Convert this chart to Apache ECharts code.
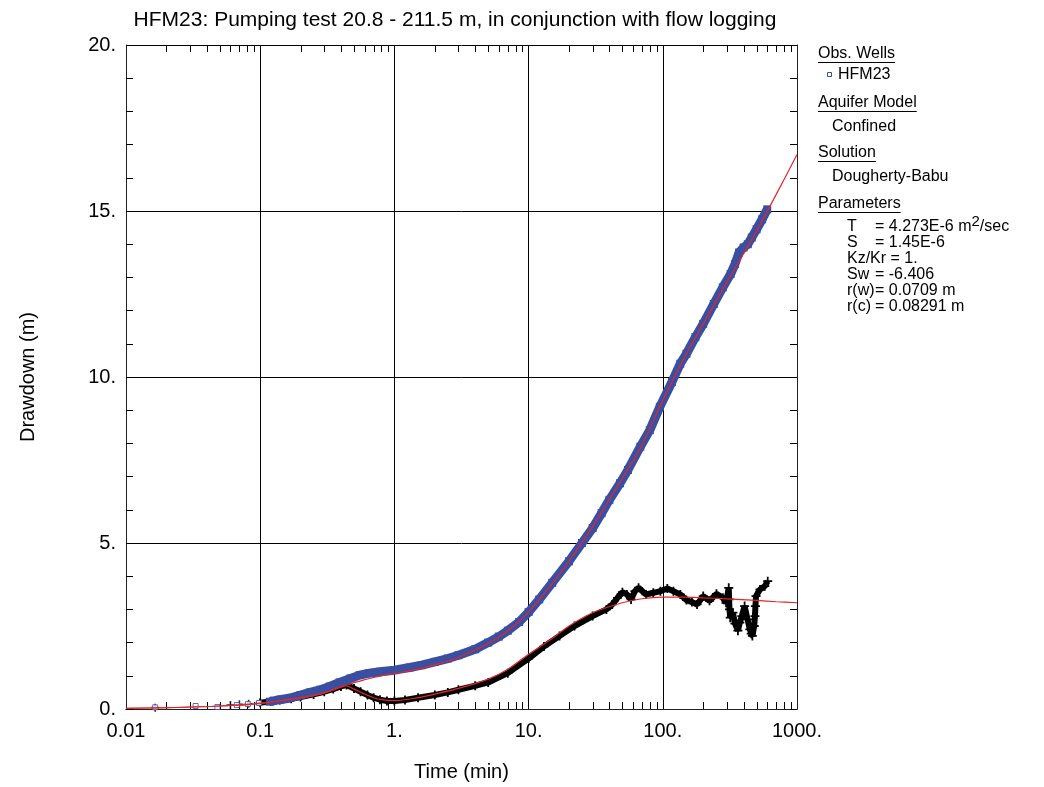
<!DOCTYPE html>
<html>
<head>
<meta charset="utf-8">
<script src="https://cdn.jsdelivr.net/npm/echarts@6/dist/echarts.min.js"></script>
<style>
  html, body { margin: 0; padding: 0; background: #ffffff; }
  #chart { width: 1044px; height: 787px; }
</style>
</head>
<body>
<div id="chart"></div>
<script>
const FONT = '"Liberation Sans", Arial, Helvetica, sans-serif';

// HFM23 observation well: isolated early readings (min, m)
const obsEarlyTime = [0.0165, 0.033, 0.048, 0.067, 0.081, 0.098];
const obsEarlyDrawdown = [0.05, 0.09, 0.06, 0.12, 0.15, 0.18];

// HFM23 observation well: continuous record (min, m)
const obsTime = [0.118, 0.14, 0.167, 0.2, 0.235, 0.28, 0.33, 0.39, 0.47, 0.55, 0.65, 0.78,
  1.0, 1.3, 1.6, 2.0, 2.5, 3.0, 4.0, 5.0, 6.0, 7.0, 8.5, 10, 12, 15, 20, 25, 30, 35, 40, 48,
  55, 68, 80, 95, 117, 135, 150, 175, 200, 240, 280, 320, 345, 370, 400, 430, 460, 500, 550, 600];
const obsDrawdown = [0.22, 0.28, 0.33, 0.42, 0.5, 0.58, 0.68, 0.8, 0.92, 1.02, 1.08, 1.12,
  1.17, 1.25, 1.32, 1.42, 1.52, 1.62, 1.8, 2.0, 2.18, 2.36, 2.62, 2.92, 3.3, 3.8, 4.45, 5.0, 5.45, 5.9, 6.3, 6.8,
  7.2, 7.9, 8.4, 9.1, 9.85, 10.4, 10.7, 11.2, 11.6, 12.2, 12.7, 13.1, 13.4, 13.75, 13.9, 14.0, 14.2, 14.45, 14.75, 15.05];

// Pumped section: isolated early readings (min, m)
const pumpEarlyTime = [0.0165, 0.06, 0.07, 0.082];
const pumpEarlyDrawdown = [0.04, 0.12, 0.14, 0.16];

// Pumped section: continuous record (min, m)
const pumpTime = [0.1, 0.12, 0.14, 0.17, 0.2, 0.25, 0.3, 0.35, 0.4, 0.44, 0.5, 0.56, 0.63, 0.7, 0.78, 0.88,
  1.0, 1.2, 1.5, 2.0, 2.5, 3.0, 4.0, 5.0, 7.0, 10, 13, 17, 22, 30, 38, 42, 46, 50, 54, 58, 62, 66, 75, 85,
  96, 108, 120, 135, 150, 165, 180, 200, 223, 251, 280, 296, 310, 312, 314, 318, 333, 345, 363, 375, 388,
  407, 428, 445, 456, 465, 480, 486, 490, 495, 530, 575, 605];
const pumpDrawdown = [0.19, 0.23, 0.27, 0.31, 0.36, 0.44, 0.52, 0.6, 0.68, 0.72, 0.62, 0.52, 0.42, 0.34, 0.28, 0.24,
  0.24, 0.27, 0.34, 0.42, 0.5, 0.58, 0.7, 0.8, 1.08, 1.52, 1.88, 2.2, 2.5, 2.8, 3.0, 3.15, 3.35, 3.52, 3.45, 3.3, 3.55, 3.65, 3.45, 3.5,
  3.55, 3.63, 3.55, 3.45, 3.28, 3.22, 3.15, 3.4, 3.26, 3.47, 3.35, 3.2, 3.65, 3.3, 3.0, 2.75, 2.9, 2.57, 2.36, 2.6, 2.8,
  3.1, 2.7, 2.4, 2.27, 2.2, 2.5, 2.8, 3.1, 3.4, 3.6, 3.7, 3.85];

// Dougherty-Babu type curves (min, m)
const fitTime = [0.01, 0.02, 0.05, 0.1, 0.2, 0.3, 0.43, 0.5, 0.6, 0.7, 0.8, 1.0, 1.5, 2, 3, 5, 7, 10, 15, 20, 30,
  50, 70, 100, 150, 200, 300, 500, 700, 1000];
const obsFit = [0.02, 0.04, 0.09, 0.17, 0.34, 0.48, 0.7, 0.79, 0.88, 0.95, 1.0, 1.07, 1.2, 1.33, 1.55, 1.97, 2.35, 2.92, 3.78, 4.45, 5.5,
  6.95, 7.95, 9.3, 10.7, 11.6, 12.85, 14.4, 15.5, 16.7];
const pumpFit = [0.02, 0.04, 0.09, 0.17, 0.34, 0.48, 0.7, 0.6, 0.45, 0.34, 0.28, 0.25, 0.34, 0.45, 0.62, 0.9, 1.2, 1.65, 2.12, 2.5, 2.9,
  3.2, 3.32, 3.37, 3.37, 3.35, 3.32, 3.27, 3.23, 3.2];

// Axis tick labels
const xTickLabels = ['0.01', '0.1', '1.', '10.', '100.', '1000.'];
const yTickLabels = ['0.', '5.', '10.', '15.', '20.'];

// Legend panel text
const obsWellHeading = 'Obs. Wells';
const obsWellName = 'HFM23';
const aquiferHeading = 'Aquifer Model';
const aquiferName = 'Confined';
const solutionHeading = 'Solution';
const solutionName = 'Dougherty-Babu';
const paramHeading = 'Parameters';
const paramNames = ['T', 'S', null, 'Sw', 'r(w)', 'r(c)'];
// each value: [text, superscript, text after superscript]
const paramValues = [['= 4.273E-6 m', '2', '/sec'], ['= 1.45E-6'], ['Kz/Kr = 1.'], ['= -6.406'], ['= 0.0709 m'], ['= 0.08291 m']];

const zip = (xs, ys) => xs.map((x, i) => [x, ys[i]]);

const BLUE = '#3a4fa0';
const RED = '#e4252b';
const X_MIN = 0.01, X_MAX = 1000, Y_MIN = 0, Y_MAX = 20;

// log-axis minor tick positions (2..9 in every decade)
const minorX = [];
for (let e = -2; e < 3; e++) {
  for (let m = 2; m <= 9; m++) minorX.push([m * Math.pow(10, e), 0]);
}

const plusPath = 'path://M4,0H6V4H10V6H6V10H4V6H0V4H4Z';

const chart = echarts.init(document.getElementById('chart'), null, { renderer: 'canvas' });

const measure = (() => {
  const ctx = document.createElement('canvas').getContext('2d');
  return (text, size) => { ctx.font = size + 'px ' + FONT; return ctx.measureText(text).width; };
})();

const LEG_X = 818, LEG_X2 = 832, LEG_X3 = 847, LEG_X4 = 875, LEG_FONT = 16;
function legText(x, y, text, size) {
  return { type: 'text', x: x, y: y, silent: true,
    style: { text: text, font: (size || LEG_FONT) + 'px ' + FONT, fill: '#000',
      align: 'left', verticalAlign: 'middle', textAlign: 'left', textVerticalAlign: 'middle' } };
}
function legHeading(y, text) {
  const w = measure(text, LEG_FONT);
  return [legText(LEG_X, y, text),
    { type: 'line', silent: true, shape: { x1: LEG_X, y1: y + 8.5, x2: LEG_X + w, y2: y + 8.5 },
      style: { stroke: '#000', lineWidth: 1 } }];
}

const graphics = [
  { type: 'text', x: 455, y: 20, silent: true,
    style: { text: 'HFM23: Pumping test 20.8 - 211.5 m, in conjunction with flow logging',
      font: '21px ' + FONT, fill: '#000', align: 'center', verticalAlign: 'middle',
      textAlign: 'center', textVerticalAlign: 'middle' } },
  ...legHeading(54, obsWellHeading),
  { type: 'rect', silent: true, shape: { x: 827.5, y: 72.5, width: 4, height: 4 },
    style: { fill: '#fff', stroke: BLUE, lineWidth: 1 } },
  legText(838, 75, obsWellName),
  ...legHeading(103, aquiferHeading),
  legText(LEG_X2, 127, aquiferName),
  ...legHeading(153, solutionHeading),
  legText(LEG_X2, 177, solutionName),
  ...legHeading(204, paramHeading)
];
paramValues.forEach((parts, i) => {
  const y = 227 + i * 16;
  if (paramNames[i]) {
    graphics.push(legText(LEG_X3, y, paramNames[i]));
    let x = LEG_X4;
    graphics.push(legText(x, y, parts[0]));
    if (parts.length > 1) {
      x += measure(parts[0], LEG_FONT);
      graphics.push(legText(x, y - 5, parts[1], 15));
      x += measure(parts[1], 15);
      graphics.push(legText(x, y, parts[2]));
    }
  } else {
    graphics.push(legText(LEG_X3, y, parts[0]));
  }
});

const axisText = { color: '#000', fontSize: 20, fontFamily: FONT };

const option = {
  animation: false,
  backgroundColor: '#ffffff',
  grid: { left: 126, right: 247, top: 45, bottom: 73, containLabel: false },
  xAxis: [
    { type: 'log', logBase: 10, min: X_MIN, max: X_MAX, position: 'bottom',
      name: 'Time (min)', nameLocation: 'middle', nameGap: 53,
      nameTextStyle: axisText,
      axisLine: { show: true, lineStyle: { color: '#222', width: 1 } },
      axisTick: { show: false },
      minorTick: { show: false },
      splitLine: { show: true, lineStyle: { color: '#000', width: 1 } },
      axisLabel: { ...axisText, margin: 12,
        formatter: v => xTickLabels[Math.round(Math.log10(v)) + 2] } },
    { type: 'log', logBase: 10, min: X_MIN, max: X_MAX, position: 'top',
      axisLine: { show: true, lineStyle: { color: '#222', width: 1 } },
      axisTick: { show: false }, axisLabel: { show: false }, splitLine: { show: false } }
  ],
  yAxis: [
    { type: 'value', min: Y_MIN, max: Y_MAX, interval: 5, position: 'left',
      name: 'Drawdown (m)', nameLocation: 'middle', nameGap: 88, nameRotate: 90,
      nameTextStyle: axisText,
      axisLine: { show: true, lineStyle: { color: '#222', width: 1 } },
      axisTick: { show: true, inside: true, length: 7, lineStyle: { color: '#000' } },
      minorTick: { show: true, splitNumber: 5, length: 7, lineStyle: { color: '#000' } },
      splitLine: { show: true, lineStyle: { color: '#000', width: 1 } },
      axisLabel: { ...axisText, margin: 10, formatter: v => yTickLabels[Math.round(v / 5)] } },
    { type: 'value', min: Y_MIN, max: Y_MAX, interval: 5, position: 'right',
      axisLine: { show: true, lineStyle: { color: '#222', width: 1 } },
      axisTick: { show: true, inside: true, length: 7, lineStyle: { color: '#000' } },
      minorTick: { show: true, splitNumber: 5, length: 7, lineStyle: { color: '#000' } },
      axisLabel: { show: false }, splitLine: { show: false } }
  ],
  graphic: graphics,
  series: [
    { // minor ticks of the logarithmic time axis, bottom and top edges
      type: 'custom', xAxisIndex: 0, yAxisIndex: 0, silent: true, clip: false, z: 5,
      data: minorX,
      renderItem: (params, api) => {
        const v = api.value(0);
        const b = api.coord([v, Y_MIN]);
        const t = api.coord([v, Y_MAX]);
        const x = Math.round(b[0]) + 0.5;
        return { type: 'group', children: [
          { type: 'line', shape: { x1: x, y1: b[1], x2: x, y2: b[1] - 7 }, style: { stroke: '#000', lineWidth: 1 } },
          { type: 'line', shape: { x1: x, y1: t[1], x2: x, y2: t[1] + 7 }, style: { stroke: '#000', lineWidth: 1 } }
        ] };
      }
    },
    { name: 'pumped section (early)', type: 'scatter', z: 6, silent: true,
      data: zip(pumpEarlyTime, pumpEarlyDrawdown),
      symbol: plusPath, symbolSize: 8, itemStyle: { color: '#000' } },
    { name: 'pumped section', type: 'line', z: 6, silent: true,
      data: zip(pumpTime, pumpDrawdown),
      lineStyle: { color: '#000', width: 6 },
      showSymbol: true, showAllSymbol: true,
      symbol: plusPath, symbolSize: 9, itemStyle: { color: '#000' } },
    { name: 'HFM23 (early)', type: 'scatter', z: 7, silent: true,
      data: zip(obsEarlyTime, obsEarlyDrawdown),
      symbol: 'rect', symbolSize: 5,
      itemStyle: { color: '#fff', borderColor: BLUE, borderWidth: 1 } },
    { name: 'HFM23', type: 'line', z: 7, silent: true,
      data: zip(obsTime, obsDrawdown),
      lineStyle: { color: BLUE, width: 9 },
      showSymbol: true, showAllSymbol: true,
      symbol: 'rect', symbolSize: 8,
      itemStyle: { color: BLUE } },
    { name: 'HFM23 fit', type: 'line', z: 8, silent: true, smooth: 0.3,
      data: zip(fitTime, obsFit), showSymbol: false,
      lineStyle: { color: RED, width: 1.2 } },
    { name: 'pumped section fit', type: 'line', z: 8, silent: true, smooth: 0.3,
      data: zip(fitTime, pumpFit), showSymbol: false,
      lineStyle: { color: RED, width: 1.2 } }
  ]
};

chart.setOption(option);
</script>
</body>
</html>
